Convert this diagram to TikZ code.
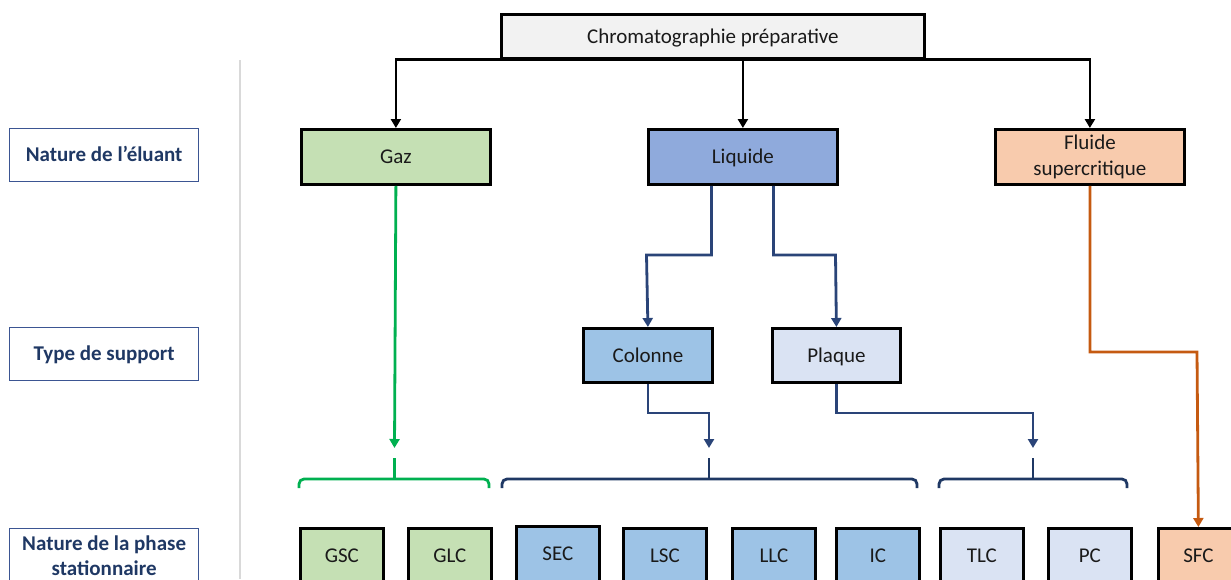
\documentclass[tikz,border=0pt]{standalone}
\usepackage{fontspec}
\setmainfont{Carlito}
\usetikzlibrary{arrows.meta}
\definecolor{topfill}{HTML}{F2F2F2}
\definecolor{gfill}{HTML}{C5E0B4}
\definecolor{lfill}{HTML}{8FAADC}
\definecolor{ofill}{HTML}{F8CBAD}
\definecolor{cfill}{HTML}{9DC3E6}
\definecolor{pfill}{HTML}{DAE3F3}
\definecolor{gline}{HTML}{00B050}
\definecolor{oline}{HTML}{C55A11}
\definecolor{nline}{HTML}{2A4478}
\definecolor{navy}{HTML}{1F3864}
\definecolor{labblue}{HTML}{3B5592}
\definecolor{txt}{HTML}{1A1A1A}
\begin{document}
\begin{tikzpicture}[x=1pt,y=-1pt,
  boxbase/.style={draw=black,line width=2.8pt,anchor=north west,inner sep=0pt,align=center,
    font=\fontsize{21}{26}\selectfont,text=txt},
  box/.style={boxbase,text height=13.5pt,text depth=0pt},
  labbase/.style={draw=labblue,line width=1.3pt,anchor=north west,minimum width=189pt,minimum height=53pt,
    inner sep=0pt,align=center,font=\fontsize{21}{25}\selectfont\bfseries,text=navy},
  lab/.style={labbase,text height=13.5pt,text depth=0pt},
  small/.style={box,minimum width=83pt,minimum height=55pt},
  conn/.style={line width=2.8pt},
  tip/.style={-{Triangle[width=10pt,length=9pt]}},
  brace/.style={line width=2.8pt,rounded corners=5pt},
]
\useasboundingbox (0,0) rectangle (1231,579);
\clip (0,0) rectangle (1231,579);

% separator
\draw[black!15,line width=1.5pt] (240,60) -- (240,579);

% left labels
\node[lab] (l1) at (9,128) {Nature de l'éluant};
\node[lab] (l2) at (9,327) {Type de support};
\node[labbase,minimum height=54pt] (l3) at (9,528) {Nature de la phase\\stationnaire};

% main boxes
\node[box,fill=topfill,minimum width=423pt,minimum height=44pt] (top) at (500,13) {Chromatographie préparative};
\node[box,fill=gfill,minimum width=189pt,minimum height=55pt] (gaz) at (300,128) {Gaz};
\node[box,fill=lfill,minimum width=189pt,minimum height=55pt] (liq) at (647,128) {Liquide};
\node[boxbase,fill=ofill,minimum width=189pt,minimum height=55pt] (flu) at (994,128) {Fluide\\supercritique};
\node[box,fill=cfill,minimum width=129pt,minimum height=54pt] (col) at (582,327) {Colonne};
\node[box,fill=pfill,minimum width=128pt,minimum height=54pt] (pla) at (771,327) {Plaque};

% bottom boxes
\node[small,fill=gfill] (gsc) at (299,527) {GSC};
\node[small,fill=gfill] (glc) at (407,527) {GLC};
\node[small,fill=cfill] (sec) at (515,525) {SEC};
\node[small,fill=cfill] (lsc) at (622,527) {LSC};
\node[small,fill=cfill] (llc) at (731,527) {LLC};
\node[small,fill=cfill] (ic)  at (835,527) {IC};
\node[small,fill=pfill] (tlc) at (939,527) {TLC};
\node[small,fill=pfill] (pc)  at (1047,527) {PC};
\node[small,fill=ofill,minimum width=80pt] (sfc) at (1157,527) {SFC};

% top connectors
\draw[conn,tip] (top.south) -| (gaz.north);
\draw[conn,tip] (top.south -| liq.north) -- (liq.north);
\draw[conn,tip] (top.south) -| (flu.north);

% liquide connectors
\coordinate (ca) at (646.5,255);
\coordinate (pa) at (835.5,255);
\draw[conn,nline,tip] ([xshift=-31.5pt]liq.south) |- (ca) -- (col.north);
\draw[conn,nline,tip] ([xshift=30.5pt]liq.south) |- (pa) -- (pla.north);

% braces
\coordinate (gb) at (394.5,448);
\coordinate (lb) at (709,448);
\coordinate (pb) at (1033,448);
\draw[brace,gline] (299,488) -- (299,479) -- (489,479) -- (489,488);
\draw[conn,gline] (394.5,479) -- (394.5,458);
\draw[brace,navy] (502,488) -- (502,479) -- (917,479) -- (917,488);
\draw[conn,navy] (709,479) -- (709,458);
\draw[brace,navy] (939,488) -- (939,479) -- (1127,479) -- (1127,488);
\draw[conn,navy] (1033,479) -- (1033,458);

% down connectors
\draw[conn,gline,tip] (gaz.south) -- (gb);
\draw[conn,nline,tip] (col.south) |- (709,413) -- (lb);
\draw[conn,nline,tip] (pla.south) |- (1033,413) -- (pb);
\draw[conn,oline,tip] (flu.south) |- (1197,352) -- (sfc.north);
\end{tikzpicture}
\end{document}
